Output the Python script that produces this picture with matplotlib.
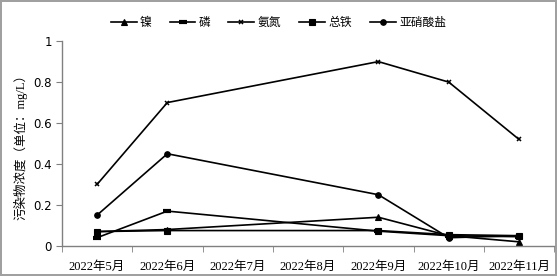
import numpy as np
import matplotlib
matplotlib.use('Agg')
import matplotlib.pyplot as plt
from matplotlib.ticker import FixedLocator

plt.rcParams['font.family'] = ['Liberation Serif', 'Noto Sans CJK SC', 'DejaVu Sans']

months = ['2022年5月', '2022年6月', '2022年7月', '2022年8月',
          '2022年9月', '2022年10月', '2022年11月']
nan = np.nan
nickel = [0.07, 0.08, nan, nan, 0.14, 0.05, 0.02]
phosphorus = [0.04, 0.17, nan, nan, 0.072, 0.05, 0.045]
ammonia = [0.30, 0.70, nan, nan, 0.90, 0.80, 0.52]
total_iron = [0.07, 0.075, nan, nan, 0.075, 0.055, 0.05]
nitrite = [0.15, 0.45, nan, nan, 0.25, 0.04, 0.05]
yticks = [0, 0.2, 0.4, 0.6, 0.8, 1]
ytick_labels = ['0', '0.2', '0.4', '0.6', '0.8', '1']

# name, values, marker, marker size, marker edge width
series = [
    ('镍', nickel, '^', 4, 0.8),
    ('磷', phosphorus, '_', 6, 3),
    ('氨氮', ammonia, 'x', 3.5, 1.1),
    ('总铁', total_iron, 's', 4, 0.8),
    ('亚硝酸盐', nitrite, 'o', 4, 0.8),
]

fig = plt.figure(figsize=(5.57, 2.76), dpi=100)
fig.patch.set_edgecolor('#a0a0a0')
fig.patch.set_linewidth(1.5)
ax = fig.add_axes([0.111, 0.109, 0.884, 0.742])

x = np.arange(len(months))
for name, vals, mk, ms, mew in series:
    v = np.array(vals)
    ok = ~np.isnan(v)
    ax.plot(x[ok], v[ok], color='black', lw=1.2, marker=mk, ms=ms,
            mew=mew, label=name)

ax.set_xlim(-0.5, 6.5)
ax.set_ylim(0, 1)
ax.set_yticks(yticks, labels=ytick_labels)
ax.set_xticks(x, labels=months, fontsize=9)
ax.xaxis.set_minor_locator(FixedLocator(np.arange(-0.5, 7, 1)))
ax.tick_params(axis='x', which='major', length=0, pad=11)
ax.tick_params(axis='x', which='minor', length=4, color='#808080', direction='out')
ax.tick_params(axis='y', length=4, color='#808080', labelsize=8.5, pad=3)
for lab in ax.get_yticklabels():
    lab.set_family(['DejaVu Sans'])
for s in ('top', 'right'):
    ax.spines[s].set_visible(False)
for s in ('left', 'bottom'):
    ax.spines[s].set_color('#808080')
    ax.spines[s].set_linewidth(1)

ax.set_ylabel('污染物浓度（单位：mg/L）', fontsize=9,
              family=['Liberation Serif', 'Noto Sans CJK SC'], labelpad=4)

fig.legend(loc='upper center', bbox_to_anchor=(0.5, 0.98), ncol=5, frameon=False,
           handlelength=2.2, columnspacing=1.5, handletextpad=0.3,
           prop={'family': ['Noto Sans CJK SC'], 'size': 8.5})

fig.savefig('out.png', dpi=100)
